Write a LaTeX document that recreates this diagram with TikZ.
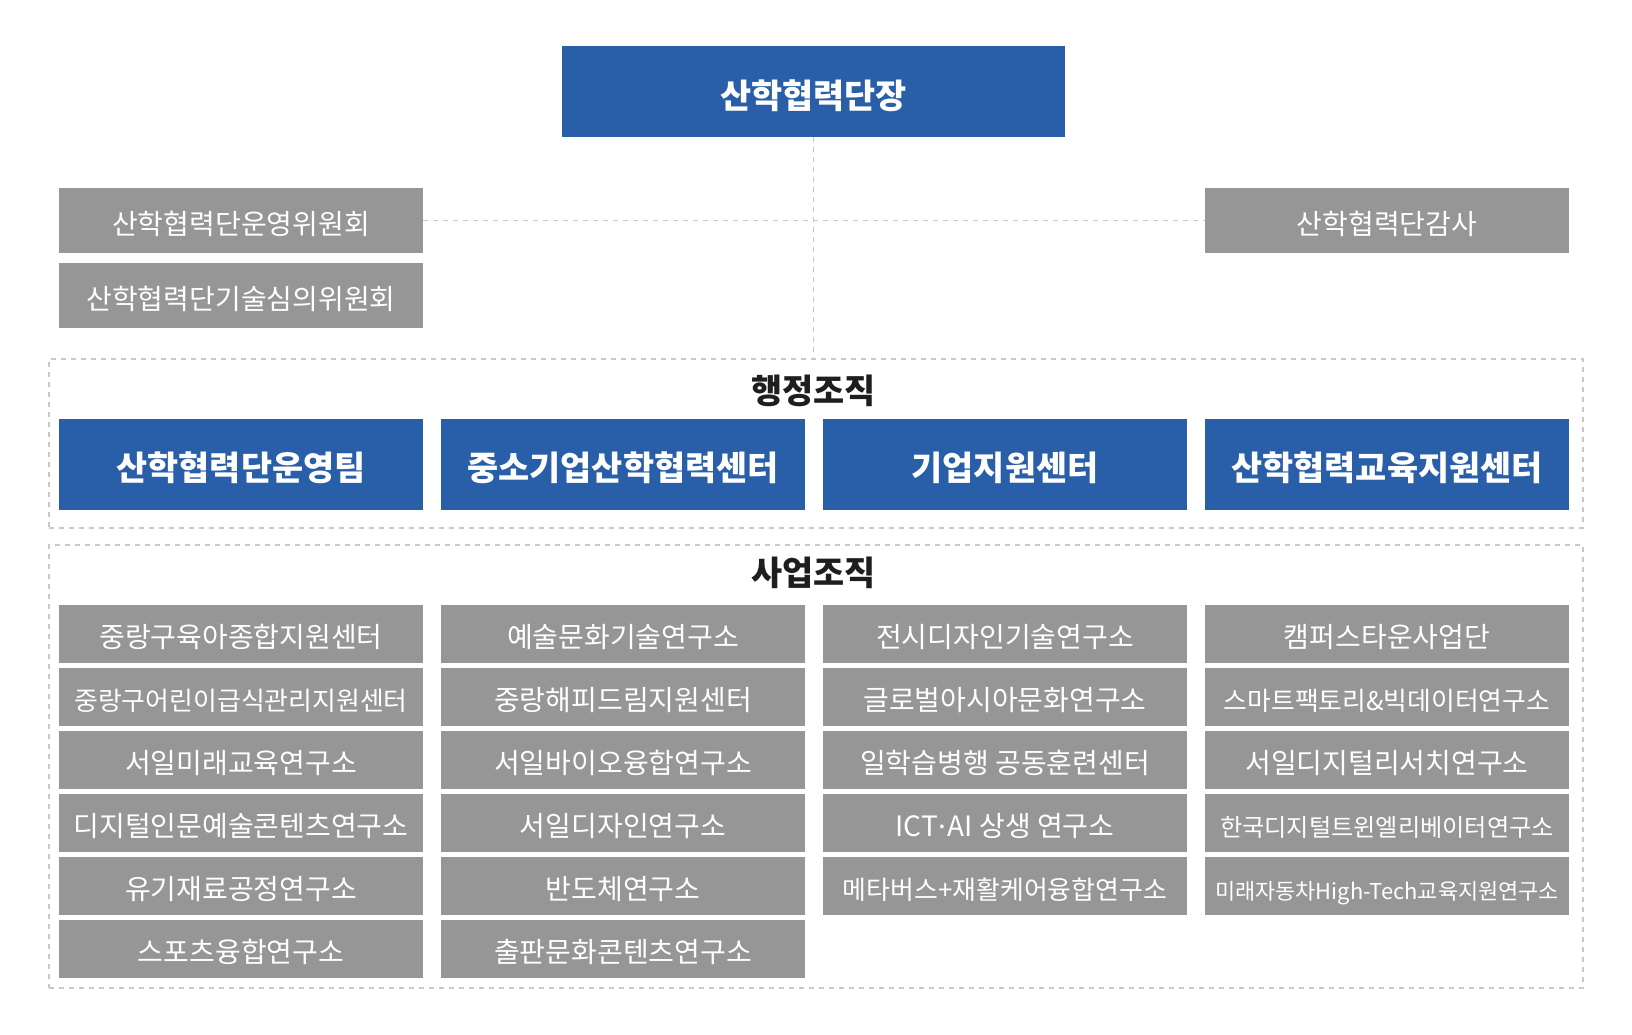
\documentclass[tikz,border=0pt]{standalone}
\usepackage{fontspec}
\setmainfont{Noto Sans CJK KR}
\definecolor{hblue}{RGB}{41,94,168}
\definecolor{hgray}{RGB}{150,150,150}
\definecolor{hdash}{RGB}{200,200,200}
\definecolor{htitle}{RGB}{30,30,30}
\tikzset{
  bluebox/.style={fill=hblue,text=white,inner sep=0pt,minimum width=364pt,minimum height=90.5pt,font=\fontsize{33.8}{36}\selectfont\bfseries,text height=32.5pt,text depth=0pt},
  topbox/.style={fill=hblue,text=white,inner sep=0pt,minimum width=503pt,minimum height=90.7pt,font=\fontsize{33.8}{36}\selectfont\bfseries,text height=34.5pt,text depth=0pt},
  graybox/.style={fill=hgray,text=white,inner sep=0pt,minimum width=364pt,minimum height=58pt,font=\fontsize{28}{30}\selectfont,text height=27pt,text depth=0pt},
  graytall/.style={graybox,minimum height=64.5pt},
  frame/.style={draw=hdash,line width=1.3pt,dash pattern=on 5pt off 5pt,inner sep=0pt,minimum width=1534pt},
  title/.style={text=htitle,inner sep=0pt,font=\fontsize{33.8}{36}\selectfont\bfseries},
  dline/.style={draw=hdash,line width=1.3pt,dash pattern=on 5pt off 5pt}
}
\newcommand{\fs}[2]{{\fontsize{#1}{#1}\selectfont #2}}
\begin{document}
\begin{tikzpicture}[x=1pt,y=-1pt]
\useasboundingbox[fill=white] (0,0) rectangle (1632,1035);
% frames
\node[frame,minimum height=169pt] (f1) at (816,443.5) {};
\node[frame,minimum height=443pt] (f2) at (816,766.5) {};
% top
\node[topbox] (top) at (813.5,91.3) {산학협력단장};
\node[graytall] (c1) at (241,220.5) {산학협력단운영위원회};
\node[graytall] (c2) at (241,295.5) {산학협력단기술심의위원회};
\node[graytall] (aud) at (1387,220.5) {산학협력단감사};
\draw[dline] (top.south) -- (top.south |- f1.north);
\draw[dline] (c1.east) -- (aud.west);
% admin
\node[title] (t1) at (813.5,391) {행정조직};
\node[bluebox] (b1) at (241,464.4) {산학협력단운영팀};
\node[bluebox] (b2) at (623,464.4) {중소기업산학협력센터};
\node[bluebox] (b3) at (1005,464.4) {기업지원센터};
\node[bluebox] (b4) at (1387,464.4) {산학협력교육지원센터};
% business
\node[title] (t2) at (813.5,573) {사업조직};
% column 1
\node[graybox] (r11) at (241,633.5) {중랑구육아종합지원센터};
\node[graybox] (r12) at (241,696.5) {\fs{25.9}{중랑구어린이급식관리지원센터}};
\node[graybox] (r13) at (241,759.5) {서일미래교육연구소};
\node[graybox] (r14) at (241,822.5) {디지털인문예술콘텐츠연구소};
\node[graybox] (r15) at (241,885.5) {유기재료공정연구소};
\node[graybox] (r16) at (241,948.5) {스포츠융합연구소};
% column 2
\node[graybox] (r21) at (623,633.5) {예술문화기술연구소};
\node[graybox] (r22) at (623,696.5) {중랑해피드림지원센터};
\node[graybox] (r23) at (623,759.5) {서일바이오융합연구소};
\node[graybox] (r24) at (623,822.5) {서일디자인연구소};
\node[graybox] (r25) at (623,885.5) {반도체연구소};
\node[graybox] (r26) at (623,948.5) {출판문화콘텐츠연구소};
% column 3
\node[graybox] (r31) at (1005,633.5) {전시디자인기술연구소};
\node[graybox] (r32) at (1005,696.5) {글로벌아시아문화연구소};
\node[graybox] (r33) at (1005,759.5) {일학습병행 공동훈련센터};
\node[graybox] (r34) at (1005,822.5) {ICT\kern0.04em\raisebox{0.27em}{.}\kern0.04em AI 상생 연구소};
\node[graybox] (r35) at (1005,885.5) {\fs{25.9}{메타버스+재활케어융합연구소}};
% column 4
\node[graybox] (r41) at (1387,633.5) {캠퍼스타운사업단};
\node[graybox] (r42) at (1387,696.5) {\fs{25.8}{스마트팩토리\&빅데이터연구소}};
\node[graybox] (r43) at (1387,759.5) {서일디지털리서치연구소};
\node[graybox] (r44) at (1387,822.5) {\fs{24.2}{한국디지털트윈엘리베이터연구소}};
\node[graybox] (r45) at (1387,885.5) {\fs{21.9}{미래자동차High-Tech교육지원연구소}};
\end{tikzpicture}
\end{document}
